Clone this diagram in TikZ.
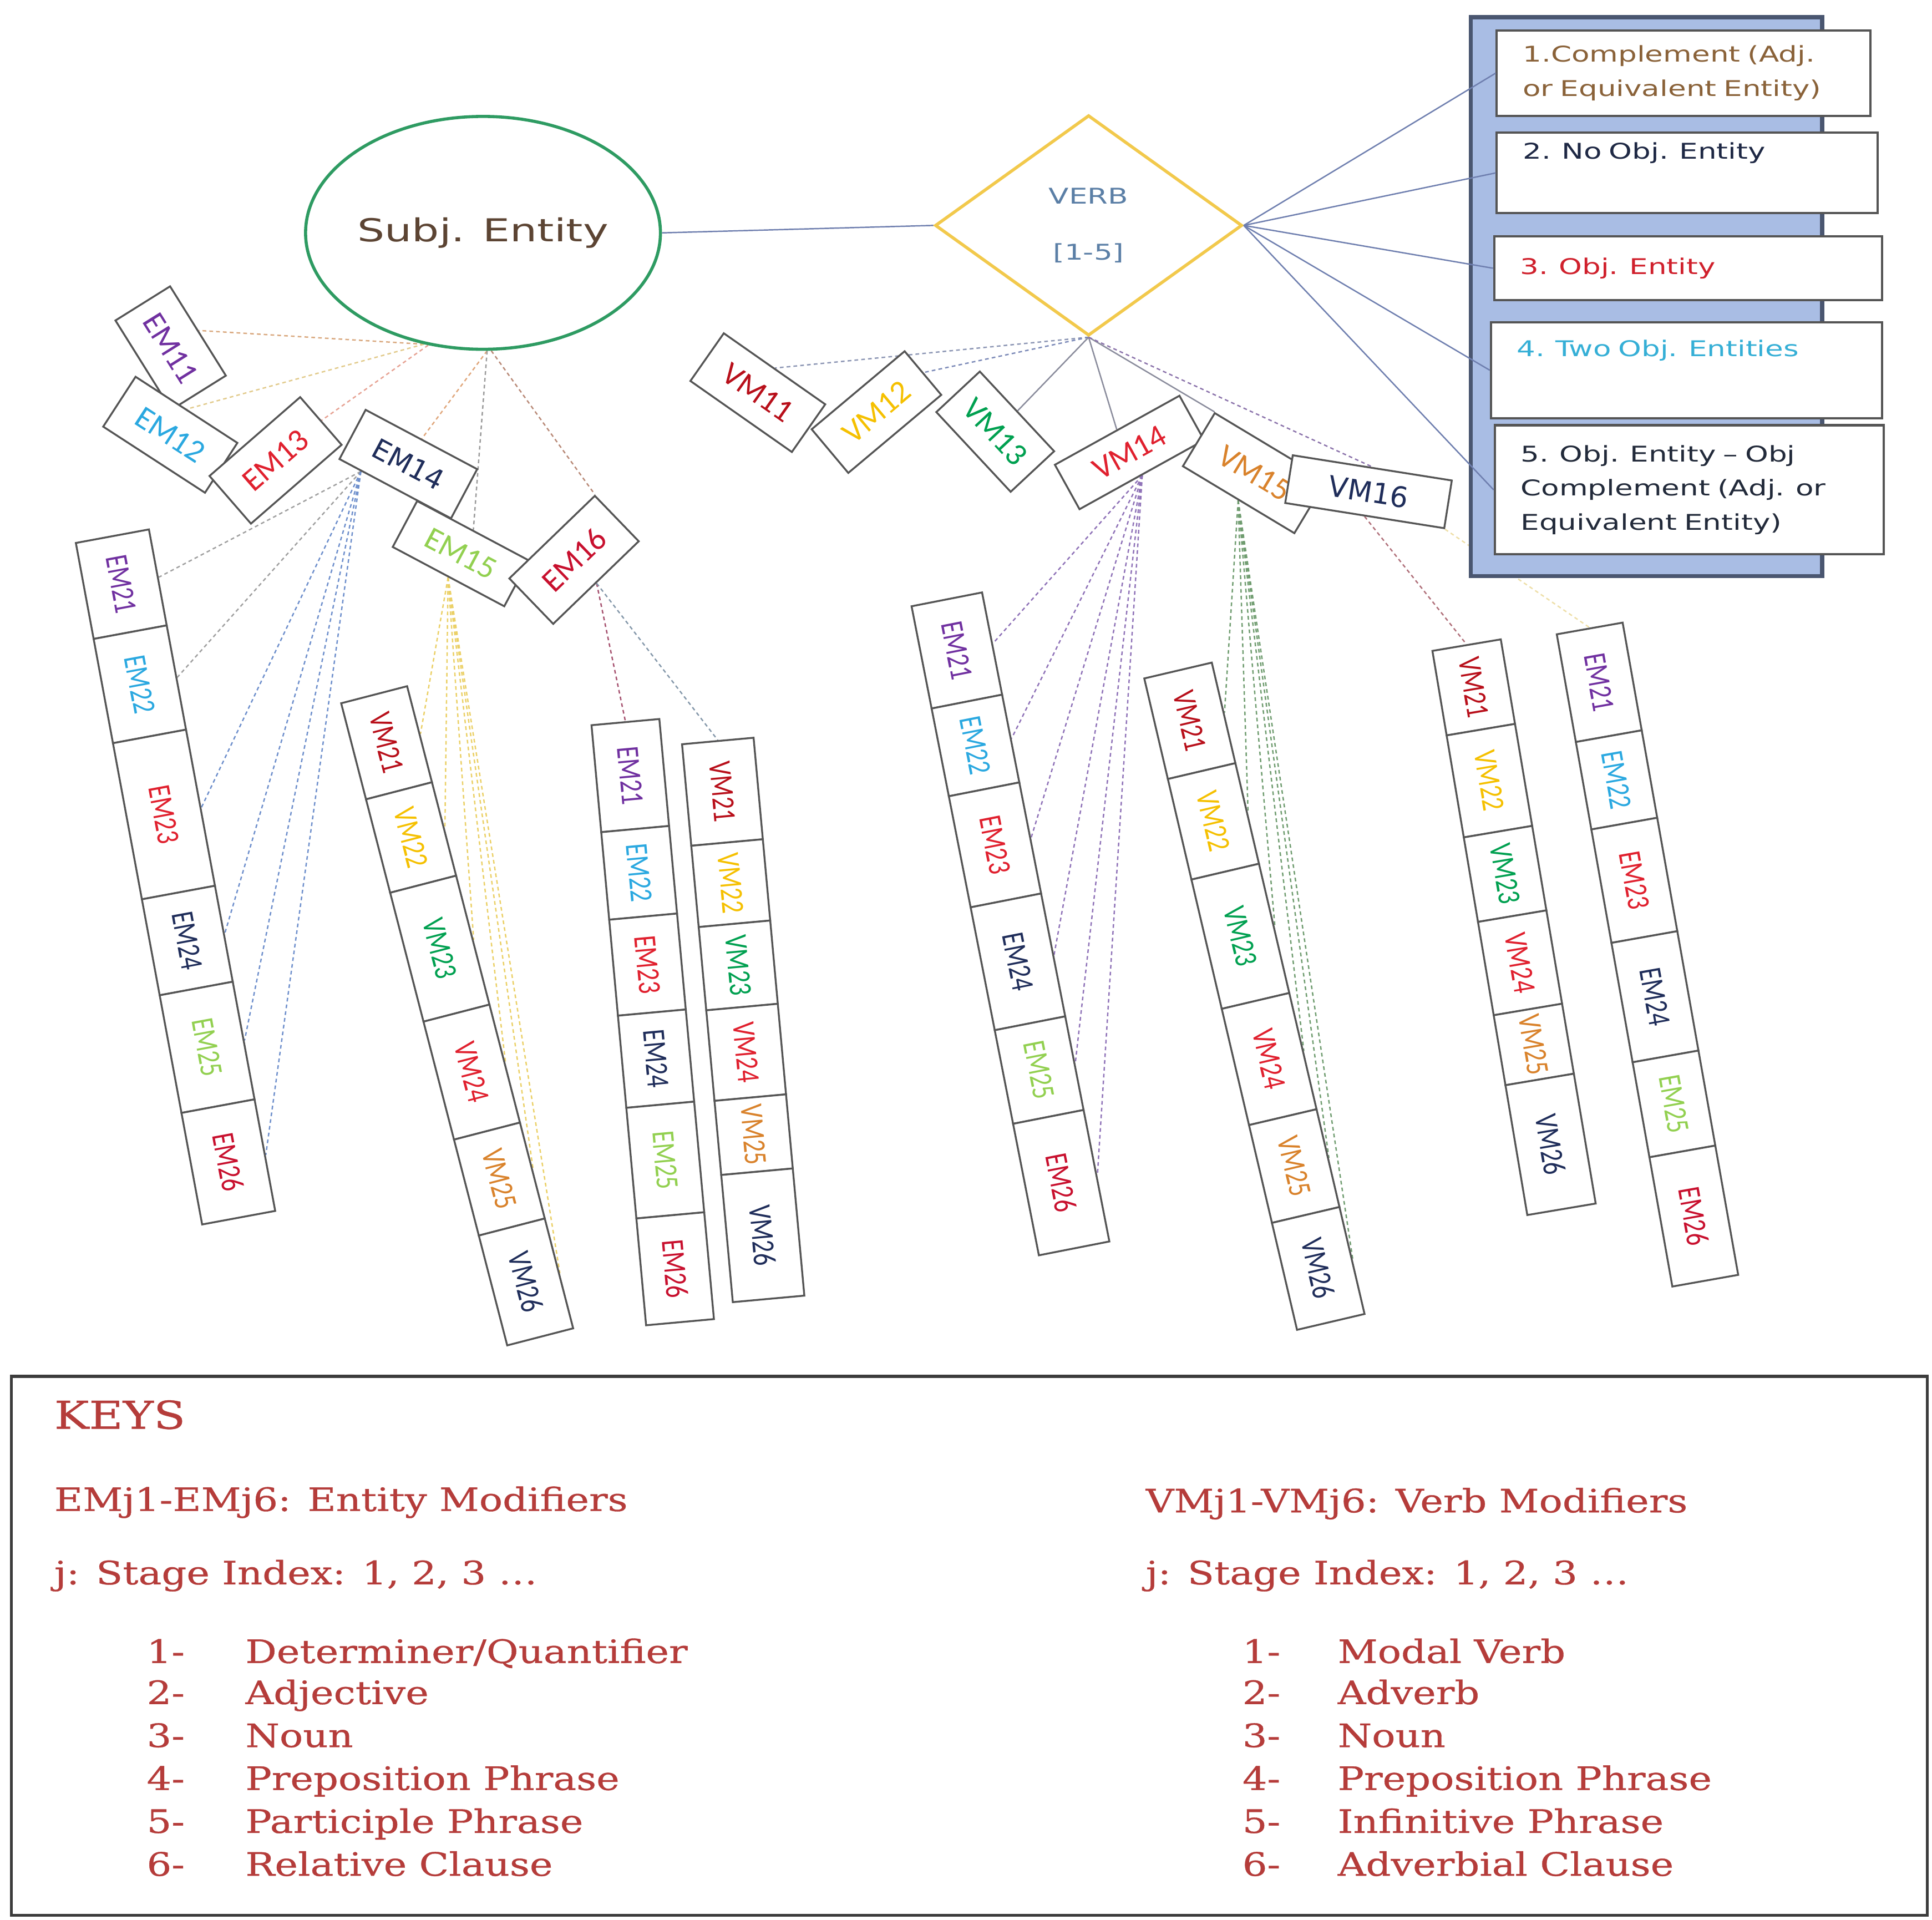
\documentclass[tikz,border=0pt]{standalone}
\usepackage{fontspec}
\usetikzlibrary{shapes.geometric,calc}
\newfontfamily\wsans[FakeStretch=1.36]{DejaVu Sans}
\newfontfamily\dsans{DejaVu Sans}
\newfontfamily\wserif[FakeStretch=1.21,FakeBold=0.6]{DejaVu Serif}
\newfontfamily\labfont{Carlito}
\newfontfamily\vlabfont[FakeStretch=0.77]{Carlito}
\pgfdeclarelayer{bg}\pgfsetlayers{bg,main}
\definecolor{boxgray}{HTML}{555555}
\definecolor{subjG}{HTML}{2E9B62}
\definecolor{subjT}{HTML}{5C4433}
\definecolor{verbY}{HTML}{F2C94C}
\definecolor{verbT}{HTML}{5B7FA6}
\definecolor{panelF}{HTML}{A9BDE4}
\definecolor{panelB}{HTML}{4A5670}
\definecolor{keyB}{HTML}{3C3C3C}
\definecolor{keyred}{HTML}{B53C3A}
\definecolor{pt1}{HTML}{8A6239}
\definecolor{pt2}{HTML}{1E2844}
\definecolor{pt3}{HTML}{D0202C}
\definecolor{pt4}{HTML}{35AFD6}
\definecolor{pt5}{HTML}{222A3A}
\definecolor{cPur}{HTML}{7030A0}
\definecolor{cCya}{HTML}{2AA8E0}
\definecolor{cRed}{HTML}{E0202E}
\definecolor{cNav}{HTML}{1F2D5A}
\definecolor{cLGr}{HTML}{92D050}
\definecolor{cDRd}{HTML}{C8102E}
\definecolor{cVRd}{HTML}{B80F1A}
\definecolor{cGld}{HTML}{F5C000}
\definecolor{cGrn}{HTML}{00A050}
\definecolor{cOrg}{HTML}{D9822B}
\definecolor{cLink}{HTML}{6F7FAF}
\definecolor{l11}{HTML}{D9A87E}
\definecolor{l12}{HTML}{E2CB8C}
\definecolor{l13}{HTML}{E7A394}
\definecolor{l14}{HTML}{E0A77C}
\definecolor{l15}{HTML}{9A9A9A}
\definecolor{l16}{HTML}{B98A78}
\definecolor{lv1}{HTML}{8C96B4}
\definecolor{lv2}{HTML}{7C8AB8}
\definecolor{lv3}{HTML}{8A8C9C}
\definecolor{lv6}{HTML}{8C74AC}
\definecolor{lgray}{HTML}{A0A0A0}
\definecolor{lblue}{HTML}{6E8FCC}
\definecolor{lyel}{HTML}{EBD066}
\definecolor{lmar}{HTML}{A5506E}
\definecolor{lgb}{HTML}{8598AA}
\definecolor{lpur}{HTML}{8F72B8}
\definecolor{lgrn}{HTML}{6F9C6F}
\definecolor{lrb}{HTML}{B0707A}
\definecolor{lfy}{HTML}{EEDFA8}
\tikzset{
  tbox/.style={draw=boxgray, line width=1.5pt, fill=white, inner sep=0pt, font=\labfont\fontsize{26}{26}\selectfont},
  cbox/.style={draw=boxgray, line width=1.5pt, fill=white, inner sep=0pt, font=\vlabfont\fontsize{26}{26}\selectfont},
  dl/.style={line width=1.1pt, dash pattern=on 3pt off 2.5pt},
  sl/.style={line width=1.1pt},
  pbox/.style={draw=boxgray, line width=1.8pt, fill=white, anchor=north west, inner xsep=21pt, inner ysep=0pt, align=left, font=\wsans\fontsize{17.5}{27.5}\selectfont},
  keytxt/.style={anchor=base west, inner sep=0pt, text=keyred, font=\wserif\fontsize{26}{30}\selectfont},
}
\newcommand\modcol[5]{%
  \begin{scope}[shift={#2},rotate=#3,transform shape]
    \foreach \mc/\ml/\mt/\mk [count=\mi] in {#5}
      \node[cbox, minimum width=\ml pt, minimum height=#4pt, text=\mk] (#1\mi) at (\mc,0) {\mt};
  \end{scope}}
\begin{document}
\begin{tikzpicture}[x=1pt,y=-1pt]
\useasboundingbox (0,0) rectangle (1560,1550);
% main shapes
\node[ellipse, draw=subjG, line width=2.5pt, minimum width=272pt, minimum height=188pt, inner sep=0pt, text=subjT, font=\wsans\fontsize{25.5}{25.5}\selectfont] (subj) at (390,188) {Subj. Entity};
\node[diamond, draw=verbY, line width=2.5pt, minimum width=248pt, minimum height=178pt, inner sep=0pt, align=center, text=verbT, font=\wsans\fontsize{17.5}{45}\selectfont] (verb) at (879,182) {VERB\\{[1-5]}};
% panel
\node[draw=panelB, fill=panelF, line width=3.5pt, minimum width=283.6pt, minimum height=451.4pt, anchor=north west, inner sep=0pt] (panel) at (1185.8,12) {};
\node[pbox, minimum width=301.6pt, minimum height=69.1pt, text width=259.6pt, text=pt1] (p1) at (1207.7,23.6) {1.Complement (Adj.\\or Equivalent Entity)};
\node[pbox, minimum width=307.7pt, minimum height=65pt, text width=265.7pt, text=pt2] (p2) at (1207.7,106.2) {2. No Obj. Entity\\\strut};
\node[pbox, minimum width=313.1pt, minimum height=51.3pt, text width=271.1pt, text=pt3] (p3) at (1205.5,190) {3. Obj. Entity};
\node[pbox, minimum width=315.7pt, minimum height=77.6pt, text width=273.7pt, text=pt4] (p4) at (1202.9,259.2) {4. Two Obj. Entities\\\strut};
\node[pbox, minimum width=313.9pt, minimum height=104.3pt, text width=271.9pt, text=pt5] (p5) at (1206,342.4) {5. Obj. Entity – Obj\\Complement (Adj. or\\Equivalent Entity)};
\foreach \i in {1,...,5} \draw[sl, cLink] (verb.east) -- (p\i.west);
% first-stage entity modifiers
\node[tbox, rotate=-58, minimum width=85pt, minimum height=52pt, text=cPur] (em11) at (137.8,281) {EM11};
\node[tbox, rotate=-33, minimum width=98pt, minimum height=48pt, text=cCya] (em12) at (137.5,351) {EM12};
\node[tbox, rotate=41, minimum width=97pt, minimum height=51pt, text=cRed] (em13) at (222.5,371.7) {EM13};
\node[tbox, rotate=-28, minimum width=102pt, minimum height=42pt, text=cLGr] (em15) at (372,447) {EM15};
\node[tbox, rotate=-28, minimum width=102pt, minimum height=45pt, text=cNav, font=\dsans\fontsize{22.5}{22.5}\selectfont] (em14) at (329.7,374.7) {EM14};
\node[tbox, rotate=44, minimum width=96pt, minimum height=51pt, text=cDRd] (em16) at (463.5,452) {EM16};
% first-stage verb modifiers
\node[tbox, rotate=-35, minimum width=100pt, minimum height=47pt, text=cVRd] (vm11) at (611.9,317) {VM11};
\node[tbox, rotate=40, minimum width=98pt, minimum height=46pt, text=cGld] (vm12) at (707.7,332.7) {VM12};
\node[tbox, rotate=-47, minimum width=88pt, minimum height=48pt, text=cGrn] (vm13) at (803.6,348.5) {VM13};
\node[tbox, rotate=29, minimum width=115pt, minimum height=41pt, text=cRed] (vm14) at (912,365.3) {VM14};
\node[tbox, rotate=-31, minimum width=105pt, minimum height=50pt, text=cOrg] (vm15) at (1013,382) {VM15};
\node[tbox, rotate=-9, minimum width=130pt, minimum height=39pt, text=cNav, font=\dsans\fontsize{23}{23}\selectfont] (vm16) at (1105,397) {VM16};
% second-stage columns
\modcol{a}{(90.75,432.9)}{-79.5}{60}{39.4/78.8/EM21/cPur, 121.6/85.6/EM22/cCya, 228.5/128.2/EM23/cRed, 332/78.8/EM24/cNav, 419.7/96.6/EM25/cLGr, 513.8/91.6/EM26/cDRd}
\modcol{b}{(302.1,560.9)}{-75.5}{55}{40.05/80.1/VM21/cVRd, 119.05/77.9/VM22/cGld, 211.75/107.5/VM23/cGrn, 314.7/98.4/VM24/cRed, 403.9/80/VM25/cOrg, 489.7/91.6/VM26/cNav}
\modcol{c}{(505,583)}{-84.8}{55}{43.35/86.7/EM21/cPur, 122.2/71/EM22/cCya, 196.6/77.8/EM23/cRed, 272.85/74.7/EM24/cNav, 355.05/89.7/EM25/cLGr, 443.2/86.6/EM26/cDRd}
\modcol{d}{(579.6,598.25)}{-84.8}{58}{41.15/82.3/VM21/cVRd, 115.25/65.9/VM22/cGld, 181.95/67.5/VM23/cGrn, 252.4/73.4/VM24/cRed, 319.15/60.1/VM25/cOrg, 400.75/103.1/VM26/cNav}
\modcol{e}{(764.5,483.9)}{-78.9}{58}{42.05/84.1/EM21/cPur, 120.2/72.2/EM22/cCya, 202/91.4/EM23/cRed, 298.25/101.1/EM24/cNav, 387.3/77/EM25/cLGr, 479.9/108.2/EM26/cDRd}
\modcol{f}{(951.2,541.35)}{-76.8}{56}{41.7/83.4/VM21/cVRd, 125.1/83.4/VM22/cGld, 220.4/107.2/VM23/cGrn, 322.2/96.4/VM24/cRed, 410.95/81.1/VM25/cOrg, 495.85/88.7/VM26/cNav}
\modcol{g}{(1184.2,520.85)}{-80.45}{56}{34.6/69.2/VM21/cVRd, 110.95/83.5/VM22/cGld, 187.3/69.2/VM23/cGrn, 260.1/76.4/VM24/cRed, 326.95/57.3/VM25/cOrg, 408.75/106.3/VM26/cNav}
\modcol{h}{(1283.6,507.4)}{-79.95}{54}{44.15/88.3/EM21/cPur, 124.15/71.7/EM22/cCya, 206.5/93/EM23/cRed, 301.95/97.9/EM24/cNav, 389.85/77.9/EM25/cLGr, 481.8/106/EM26/cDRd}
% connectors
\begin{pgfonlayer}{bg}
\fill[white] (0,0) rectangle (1560,1550);
\draw[sl, cLink] (subj.east) -- (verb.west);
\draw[dl, l11] (subj.242) -- (em11.north);
\draw[dl, l12] (subj.242) -- (em12.north);
\draw[dl, l13] (subj.244) -- (em13.east);
\draw[dl, l14] (subj.272) -- (em14.north);
\draw[dl, l15] (subj.272) -- (em15.north);
\draw[dl, l16] (subj.274) -- (em16.north east);
\draw[dl, lv1] (verb.south) -- (vm11.north);
\draw[dl, lv2] (verb.south) -- (vm12.east);
\draw[sl, lv3] (verb.south) -- (vm13.north);
\draw[sl, lv3] (verb.south) -- (vm14.north);
\draw[sl, lv3] (verb.south) -- (vm15.north west);
\draw[dl, lv6] (verb.south) -- (vm16.north);
\coordinate (em14b) at ($(em14.south west)!0.4!(em14.south)$);
\foreach \i/\cl in {1/lgray,2/lgray,3/lblue,4/lblue,5/lblue,6/lblue} \draw[dl,\cl] (em14b) -- (a\i.north);
\foreach \i in {1,...,6} \draw[dl,lyel] (em15.south) -- (b\i.north);
\draw[dl,lmar] (em16.south) -- (c1.west);
\draw[dl,lgb] (em16.south) -- (d1.west);
\foreach \i in {1,...,6} \draw[dl,lpur] (vm14.south) -- (e\i.north);
\foreach \i in {1,...,6} \draw[dl,lgrn] (vm15.south) -- (f\i.north);
\draw[dl,lrb] (vm16.south) -- (g1.west);
\draw[dl,lfy] (vm16.south east) -- (h1.west);
\end{pgfonlayer}
% key
\node[draw=keyB, line width=2.5pt, minimum width=1547pt, minimum height=435pt, anchor=north west, inner sep=0pt] (keybox) at (8,1110) {};
\node[keytxt, font=\wserif\fontsize{31}{31}\selectfont] (keys) at (43.7,1153.5) {KEYS};
\node[keytxt] (kem) at (43.7,1219.9) {EMj1-EMj6: Entity Modifiers};
\node[keytxt] (kj1) at (43.7,1279.1) {j: Stage Index: 1, 2, 3 …};
\node[keytxt] (ln1) at (118.3,1342.6) {1-};
\node[keytxt] (lt1) at (198,1342.6) {Determiner/Quantifier};
\node[keytxt] (ln2) at (118.3,1375.8) {2-};
\node[keytxt] (lt2) at (198,1375.8) {Adjective};
\node[keytxt] (ln3) at (118.3,1410.5) {3-};
\node[keytxt] (lt3) at (198,1410.5) {Noun};
\node[keytxt] (ln4) at (118.3,1445.1) {4-};
\node[keytxt] (lt4) at (198,1445.1) {Preposition Phrase};
\node[keytxt] (ln5) at (118.3,1479.8) {5-};
\node[keytxt] (lt5) at (198,1479.8) {Participle Phrase};
\node[keytxt] (ln6) at (118.3,1514.4) {6-};
\node[keytxt] (lt6) at (198,1514.4) {Relative Clause};
\node[keytxt] (kvm) at (925,1221) {VMj1-VMj6: Verb Modifiers};
\node[keytxt] (kj2) at (925,1279.1) {j: Stage Index: 1, 2, 3 …};
\node[keytxt] (rn1) at (1003,1342.6) {1-};
\node[keytxt] (rt1) at (1080,1342.6) {Modal Verb};
\node[keytxt] (rn2) at (1003,1375.8) {2-};
\node[keytxt] (rt2) at (1080,1375.8) {Adverb};
\node[keytxt] (rn3) at (1003,1410.5) {3-};
\node[keytxt] (rt3) at (1080,1410.5) {Noun};
\node[keytxt] (rn4) at (1003,1445.1) {4-};
\node[keytxt] (rt4) at (1080,1445.1) {Preposition Phrase};
\node[keytxt] (rn5) at (1003,1479.8) {5-};
\node[keytxt] (rt5) at (1080,1479.8) {Infinitive Phrase};
\node[keytxt] (rn6) at (1003,1514.4) {6-};
\node[keytxt] (rt6) at (1080,1514.4) {Adverbial Clause};
\end{tikzpicture}
\end{document}
